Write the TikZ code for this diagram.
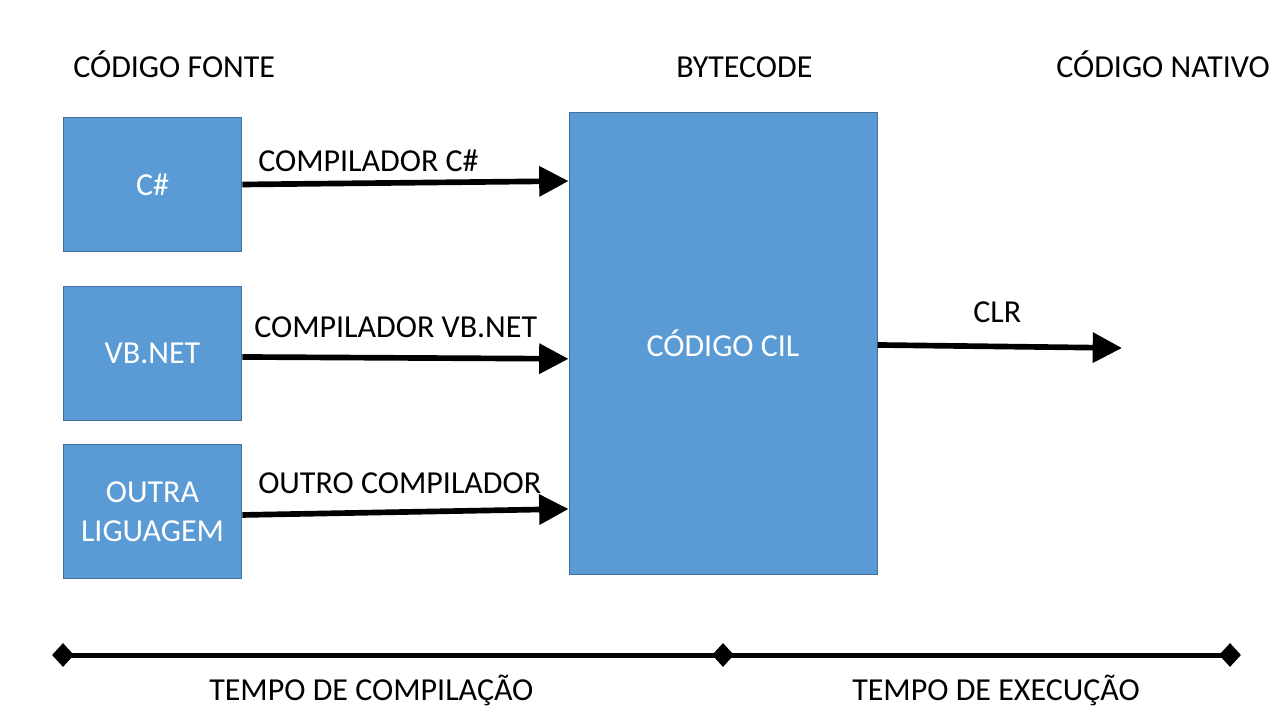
\documentclass[tikz,border=0pt]{standalone}
\usepackage{fontspec}
\setmainfont{Carlito}
\usetikzlibrary{arrows.meta,shapes.geometric}
\definecolor{boxblue}{HTML}{5B9BD5}
\definecolor{boxedge}{HTML}{41719C}

\begin{document}
\begin{tikzpicture}[x=0.75pt,y=-0.75pt,font=\fontsize{24}{29}\selectfont, %one unit = one pixel of the 1280x720 slide
  srcbox/.style={draw=boxedge,line width=0.75pt,fill=boxblue,text=white,align=center,inner sep=0pt,minimum width=134pt,minimum height=100pt},
  cilbox/.style={srcbox,minimum width=231pt,minimum height=346pt},
  txt/.style={anchor=base west,inner sep=0pt},
  flow/.style={line width=4.25pt,-{Triangle[length=22pt,width=22pt]}},
  tick/.style={shape=diamond,fill=black,inner sep=0pt,minimum width=16.5pt,minimum height=18pt},
  timeline/.style={line width=3.75pt}]
\fill[white] (0,0) rectangle (1280,720); %Background, fixes the slide size
\node[txt] (fonte) at (73,78) {CÓDIGO FONTE}; %Column titles
\node[txt] (bytecode) at (676,78) {BYTECODE};
\node[txt] (nativo) at (1056,78) {CÓDIGO NATIVO};
\node[srcbox] (cs) at (152.5,184.5) {C\#}; %Source languages
\node[srcbox] (vb) at (152.5,353.5) {VB.NET};
\node[srcbox] (outra) at (152.5,511.5) {OUTRA\\LIGUAGEM};
\node[cilbox] (cil) at (723,343.5) {CÓDIGO CIL}; %Intermediate code
\coordinate (nat) at (1122,348); %Free end of the CLR arrow
\draw[flow] (cs.east) -- ([yshift=2.6pt]cs.east -| cil.west); %Compilers
\draw[flow] ([yshift=-2.6pt]vb.east) -- ([yshift=-4pt]vb.east -| cil.west);
\draw[flow] ([yshift=-2.6pt]outra.east) -- ([yshift=1.9pt]outra.east -| cil.west);
\draw[flow] ([yshift=-1.1pt]cil.east) -- (nat);
\node[txt] (lblcs) at (258,172) {COMPILADOR C\#};
\node[txt] (lblvb) at (254,337) {COMPILADOR VB.NET};
\node[txt] (lblout) at (258,493) {OUTRO COMPILADOR};
\node[txt] (lblclr) at (973,322) {CLR};
\node[tick] (t0) at (63,655) {}; %Time line
\node[tick] (t1) at (723,655) {};
\node[tick] (t2) at (1230,655) {};
\draw[timeline] (t0.center) -- (t1.center) -- (t2.center);
\node[txt] (tcomp) at (209,700) {TEMPO DE COMPILAÇÃO};
\node[txt] (texec) at (852,700) {TEMPO DE EXECUÇÃO};
\end{tikzpicture}
\end{document}
